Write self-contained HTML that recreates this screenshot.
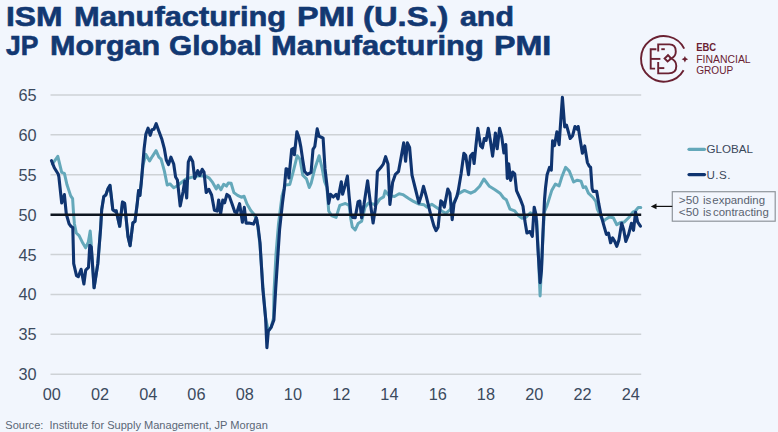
<!DOCTYPE html>
<html><head><meta charset="utf-8"><style>
html,body{margin:0;padding:0;}
body{width:778px;height:432px;overflow:hidden;background:#f2f6fd;position:relative;font-family:"Liberation Sans",sans-serif;}
.t{position:absolute;font-weight:bold;font-size:27px;color:#123872;-webkit-text-stroke:0.6px #123872;white-space:nowrap;transform-origin:0 0;line-height:30px;}
svg{position:absolute;left:0;top:0;}
</style></head><body>
<div class="t" style="top:2.3px;left:5.72px;transform:scaleX(1.1783)">ISM</div>
<div class="t" style="top:2.3px;left:73.86px;transform:scaleX(1.1408)">Manufacturing</div>
<div class="t" style="top:2.3px;left:296.60px;transform:scaleX(1.1978)">PMI</div>
<div class="t" style="top:2.3px;left:363.49px;transform:scaleX(1.2130)">(U.S.)</div>
<div class="t" style="top:2.3px;left:459.90px;transform:scaleX(1.1234)">and</div>
<div class="t" style="top:30.8px;left:6.30px;transform:scaleX(0.9818)">JP</div>
<div class="t" style="top:30.8px;left:49.67px;transform:scaleX(1.1295)">Morgan</div>
<div class="t" style="top:30.8px;left:168.80px;transform:scaleX(1.1049)">Global</div>
<div class="t" style="top:30.8px;left:271.06px;transform:scaleX(1.1440)">Manufacturing</div>
<div class="t" style="top:30.8px;left:494.41px;transform:scaleX(1.1935)">PMI</div>
<svg width="778" height="432" viewBox="0 0 778 432">
<g stroke="#ced2d6" stroke-width="1.5" fill="none"><line x1="50.5" y1="374.2" x2="641.2" y2="374.2" /><line x1="50.5" y1="334.3" x2="641.2" y2="334.3" /><line x1="50.5" y1="294.4" x2="641.2" y2="294.4" /><line x1="50.5" y1="254.5" x2="641.2" y2="254.5" /><line x1="50.5" y1="174.7" x2="641.2" y2="174.7" /><line x1="50.5" y1="134.8" x2="641.2" y2="134.8" /><line x1="50.5" y1="94.9" x2="641.2" y2="94.9" /></g>
<g font-family="Liberation Sans" font-size="16.3" fill="#3b4a5e" text-anchor="end"><text x="36.7" y="380.2">30</text><text x="36.7" y="340.3">35</text><text x="36.7" y="300.4">40</text><text x="36.7" y="260.5">45</text><text x="36.7" y="220.6">50</text><text x="36.7" y="180.7">55</text><text x="36.7" y="140.8">60</text><text x="36.7" y="100.9">65</text></g>
<g font-family="Liberation Sans" font-size="16.3" fill="#3b4a5e" text-anchor="middle"><text x="51.7" y="399.9">00</text><text x="100.0" y="399.9">02</text><text x="148.2" y="399.9">04</text><text x="196.4" y="399.9">06</text><text x="244.7" y="399.9">08</text><text x="292.9" y="399.9">10</text><text x="341.2" y="399.9">12</text><text x="389.4" y="399.9">14</text><text x="437.7" y="399.9">16</text><text x="485.9" y="399.9">18</text><text x="534.2" y="399.9">20</text><text x="582.5" y="399.9">22</text><text x="630.7" y="399.9">24</text></g>
<polyline points="52.4,164.0 57.8,156.3 61.7,172.4 64.4,173.3 67.0,184.8 70.7,195.9 72.6,198.7 73.5,212.6 74.4,223.7 76.3,233.0 79.1,235.7 82.8,243.1 85.6,247.8 88.3,242.2 90.2,231.1 91.2,243.0 91.3,247.0 94.1,287.8 97.8,263.7 100.6,228.5 101.7,209.7 103.8,196.5 105.8,195.1 107.9,188.9 110.0,185.4 111.4,197.2 112.8,209.7 114.9,211.2 116.2,210.8 119.7,226.3 122.5,202.0 124.6,203.3 128.0,236.7 130.1,245.7 132.9,222.8 135.0,221.4 137.3,203.0 138.6,190.5 139.9,195.5 141.2,183.3 143.0,165.0 145.9,154.4 149.6,160.9 152.4,156.3 156.1,150.7 158.9,157.2 161.1,159.1 164.4,171.1 167.2,185.0 170.0,183.9 173.7,187.8 177.0,186.0 182.0,182.0 186.0,179.0 190.4,177.6 194.1,176.7 197.0,176.0 205.2,175.9 208.9,177.8 212.6,182.4 216.3,188.9 218.1,185.2 220.9,189.8 223.7,184.3 226.5,186.1 228.3,183.0 231.1,183.3 233.9,192.6 237.6,195.4 241.3,197.2 244.1,196.3 246.9,203.7 250.6,210.2 254.3,214.8 257.0,220.0 260.0,245.0 263.0,288.0 265.6,318.0 268.3,331.0 271.1,327.4 273.5,318.0 274.0,292.0 276.0,254.0 278.4,225.0 282.0,196.0 285.2,185.0 289.8,184.4 293.5,170.6 297.2,155.7 300.0,159.4 302.8,175.2 306.5,178.9 309.3,187.5 311.1,183.5 314.8,168.7 319.1,155.7 322.2,168.7 324.6,181.7 326.9,187.2 328.7,210.9 331.5,215.6 336.1,217.4 339.8,205.4 342.6,204.4 345.4,203.5 349.1,205.4 350.9,219.3 352.3,227.0 355.2,229.9 358.1,223.6 361.6,221.3 365.0,207.4 368.5,203.0 375.9,204.8 379.6,199.3 383.6,196.9 385.2,190.9 388.9,195.6 394.4,196.5 399.1,193.7 402.8,194.6 408.3,198.3 413.0,201.1 418.5,203.9 424.1,204.8 426.9,207.1 431.8,204.3 438.1,208.5 442.2,211.3 445.7,213.3 449.9,209.9 454.0,202.2 458.2,193.9 464.4,190.4 470.7,193.2 474.9,191.1 479.7,186.3 483.9,179.0 489.4,186.3 495.0,189.7 500.0,193.2 503.6,198.0 506.3,199.8 510.0,209.1 514.7,210.9 518.4,215.6 522.1,218.3 525.8,217.4 530.4,212.8 534.1,214.6 536.9,221.1 540.1,296.0 542.3,250.0 544.3,212.0 547.1,205.4 551.7,190.6 555.4,184.1 559.1,185.9 561.9,176.7 565.6,167.4 569.3,171.1 573.6,182.0 577.3,180.2 581.0,181.1 583.2,187.6 585.6,186.7 588.4,193.1 593.0,197.5 595.8,201.5 597.4,209.4 600.8,216.4 603.6,221.3 605.7,219.2 609.2,217.1 613.3,217.8 616.8,224.7 620.3,222.6 624.4,221.9 628.6,217.8 632.8,212.2 635.6,210.8 638.3,207.4 640.8,207.4" fill="none" stroke="#64a8ba" stroke-width="3" stroke-linejoin="round" stroke-linecap="round"/>
<polyline points="51.5,160.7 54.3,167.8 58.3,174.3 58.9,177.0 61.7,203.0 64.4,194.6 66.3,214.0 69.1,223.9 70.9,226.3 72.8,227.6 73.7,263.7 76.5,275.7 78.3,276.7 81.1,269.3 83.9,284.0 85.7,270.2 88.5,267.4 89.8,245.2 91.3,247.0 94.1,287.8 97.8,263.7 100.6,228.5 101.7,209.7 103.8,196.5 105.8,195.1 107.9,188.9 110.0,185.4 111.4,197.2 112.8,209.7 114.9,211.2 116.2,210.8 119.7,226.3 122.5,202.0 124.6,203.3 128.0,236.7 130.1,245.7 132.9,222.8 135.0,221.4 137.3,203.0 138.6,190.5 139.9,195.5 141.2,183.3 144.1,148.9 145.9,134.0 148.1,128.1 150.2,135.3 152.0,129.7 153.9,129.3 156.2,123.7 158.9,131.3 161.7,138.7 164.4,148.9 166.3,160.0 168.5,164.6 170.9,157.2 173.7,164.0 175.6,177.0 177.4,180.0 180.2,206.0 183.0,192.0 184.8,181.0 186.7,198.0 188.3,162.0 190.3,157.0 192.7,161.5 194.7,178.5 197.7,170.7 199.7,175.5 202.2,169.3 204.0,172.0 206.2,192.5 208.8,189.3 211.6,195.0 214.4,210.2 217.2,211.1 218.7,200.0 220.6,213.9 222.8,200.0 224.6,202.8 226.9,194.4 229.3,196.3 232.0,203.7 234.8,212.0 236.7,213.0 239.6,203.7 242.4,222.2 244.3,207.4 246.1,223.1 248.9,223.1 253.5,224.1 256.3,217.6 258.1,226.9 260.0,242.6 262.8,288.5 265.6,318.1 266.9,347.8 268.3,331.1 271.1,327.4 273.9,320.0 275.7,288.5 279.6,229.4 282.4,203.5 284.3,188.7 286.1,168.7 288.0,169.6 288.9,178.0 291.7,149.3 293.5,148.3 294.4,154.8 296.9,131.7 299.1,138.1 300.9,147.4 302.8,160.4 304.6,171.5 307.4,174.3 311.1,172.4 313.0,149.3 314.8,146.5 317.2,128.9 319.1,136.3 321.3,137.2 323.1,138.1 325.0,168.7 326.9,185.0 328.7,203.5 330.6,194.3 333.3,197.0 336.1,194.3 338.0,198.9 339.8,189.6 341.3,181.7 342.6,194.3 345.0,185.9 347.4,176.1 349.1,196.1 350.9,214.6 352.8,217.4 355.2,217.8 358.1,201.6 359.8,201.0 361.6,217.8 363.9,205.0 367.6,180.7 370.8,206.2 373.1,223.0 375.5,207.4 377.4,171.5 380.6,167.8 383.3,164.1 385.6,156.7 388.0,164.1 389.9,204.5 392.6,182.6 395.4,174.3 398.5,171.5 400.9,158.5 403.7,142.8 405.6,161.3 407.4,142.8 409.6,147.4 412.0,175.2 415.7,190.0 418.9,203.0 421.3,195.6 423.5,186.3 426.3,196.7 430.4,213.3 433.9,225.8 436.0,230.7 438.1,227.2 440.8,200.8 442.2,202.2 444.3,207.1 447.8,189.0 449.9,193.2 452.2,219.6 454.0,203.6 456.8,196.7 458.3,190.4 461.1,173.7 463.9,153.3 465.7,155.2 468.5,174.6 470.4,156.1 472.8,153.3 474.1,163.5 475.9,145.9 477.8,128.3 480.6,145.9 482.4,147.8 484.3,138.5 486.1,140.4 488.3,128.3 490.2,139.4 492.6,156.1 495.4,133.0 497.2,148.7 499.6,128.3 501.7,136.3 503.9,153.0 505.8,144.6 507.3,178.5 508.7,163.7 510.6,180.4 512.8,172.0 514.7,173.9 516.5,190.6 520.2,198.9 523.0,206.3 524.9,221.1 526.9,233.0 529.9,231.5 532.3,236.4 534.2,207.2 536.0,214.5 538.4,255.8 540.1,282.6 541.5,270.0 543.0,231.5 544.5,200.0 545.5,188.0 547.1,174.8 549.5,167.4 551.3,170.2 552.6,140.9 554.5,145.6 556.9,131.7 559.1,144.6 562.4,97.4 564.7,127.0 566.5,125.2 570.2,138.5 572.6,135.7 575.0,126.5 577.3,129.3 578.2,126.5 580.0,138.5 582.4,153.3 584.7,145.9 587.4,162.6 589.3,166.3 590.6,167.2 592.1,188.5 593.2,191.4 596.7,191.4 598.8,203.9 600.8,214.3 603.6,224.7 606.4,234.4 608.5,233.1 610.6,242.8 612.6,237.9 614.7,241.4 616.8,246.3 618.9,240.0 621.7,223.3 623.8,230.3 625.8,241.4 628.6,234.4 631.4,223.3 633.5,230.3 635.6,212.2 637.6,221.9 640.4,226.1" fill="none" stroke="#0f3470" stroke-width="3.1" stroke-linejoin="round" stroke-linecap="round"/>
<line x1="50.5" y1="214.8" x2="641.2" y2="214.8" stroke="#0f1620" stroke-width="2.5"/>
<!-- legend -->
<line x1="689" y1="149.3" x2="704.5" y2="149.3" stroke="#64a8ba" stroke-width="3.2" stroke-linecap="round"/>
<line x1="689" y1="174.6" x2="704.5" y2="174.6" stroke="#0f3470" stroke-width="3.2" stroke-linecap="round"/>
<g font-family="Liberation Sans" font-size="11.6" fill="#3a485a">
<text x="706.5" y="153.2">GLOBAL</text>
<text x="706.5" y="179.1" letter-spacing="0.5">U.S.</text>
</g>
<rect x="672.3" y="191.7" width="102.9" height="29.5" fill="none" stroke="#8f959c" stroke-width="1.2"/>
<g font-family="Liberation Sans" font-size="11.6" fill="#596270" lengthAdjust="spacingAndGlyphs">
<text x="678.8" y="204.3" textLength="20" lengthAdjust="spacingAndGlyphs">&gt;50</text>
<text x="703" y="204.3">is</text>
<text x="712.3" y="204.3" textLength="52.8" lengthAdjust="spacingAndGlyphs">expanding</text>
<text x="678.8" y="216" textLength="20" lengthAdjust="spacingAndGlyphs">&lt;50</text>
<text x="703" y="216">is</text>
<text x="713" y="216" textLength="55.8" lengthAdjust="spacingAndGlyphs">contracting</text>
</g>
<line x1="654" y1="206.4" x2="672.3" y2="206.4" stroke="#111" stroke-width="1.2"/>
<path d="M650.8 206.4 L656.5 203.6 L656.5 209.2 Z" fill="#111"/>
<!-- logo -->
<g stroke="#6a2132" fill="none" stroke-width="1.9">
<path d="M684.2 48.6 A22.8 22.8 0 1 0 683.6 70.2"/>
<path d="M656.4 49.2 H650.7 V68.6 H655.1"/>
<path d="M650.7 58.9 H660.4"/>
<path d="M658.2 51.4 V44.4 H669.5 Q675.8 44.4 675.8 51.4 Q675.8 56.3 671.2 58.5 Q676.3 60.8 676.3 66 Q676.3 73.4 668.5 73.4 H658.2 V62"/>
<path d="M661.3 49.2 H664.8"/>
<path d="M659.1 68.1 H664.3"/>
<path d="M671.2 58.5 L668 55.2 L664.6 58.5 L667.6 61.5 L671.2 58.5"/>
</g>
<path d="M684.9 55.9 Q685.4 58.7 688.2 59.2 Q685.4 59.7 684.9 62.5 Q684.4 59.7 681.6 59.2 Q684.4 58.7 684.9 55.9 Z" fill="#6a2132"/>
<g font-family="Liberation Sans" fill="#6a2132">
<text x="696.2" y="51.2" font-size="10.2" font-weight="bold" textLength="19.9" lengthAdjust="spacingAndGlyphs">EBC</text>
<text x="696.2" y="62.6" font-size="10.3" textLength="54.5" lengthAdjust="spacingAndGlyphs">FINANCIAL</text>
<text x="696.2" y="73.6" font-size="10.3" textLength="37" lengthAdjust="spacingAndGlyphs">GROUP</text>
</g>
<text x="5.3" y="428.9" font-family="Liberation Sans" font-size="11.8" fill="#5a6676" textLength="262.5" lengthAdjust="spacingAndGlyphs">Source:&#160; Institute for Supply&#160;Management, JP Morgan</text>
</svg>
</body></html>
